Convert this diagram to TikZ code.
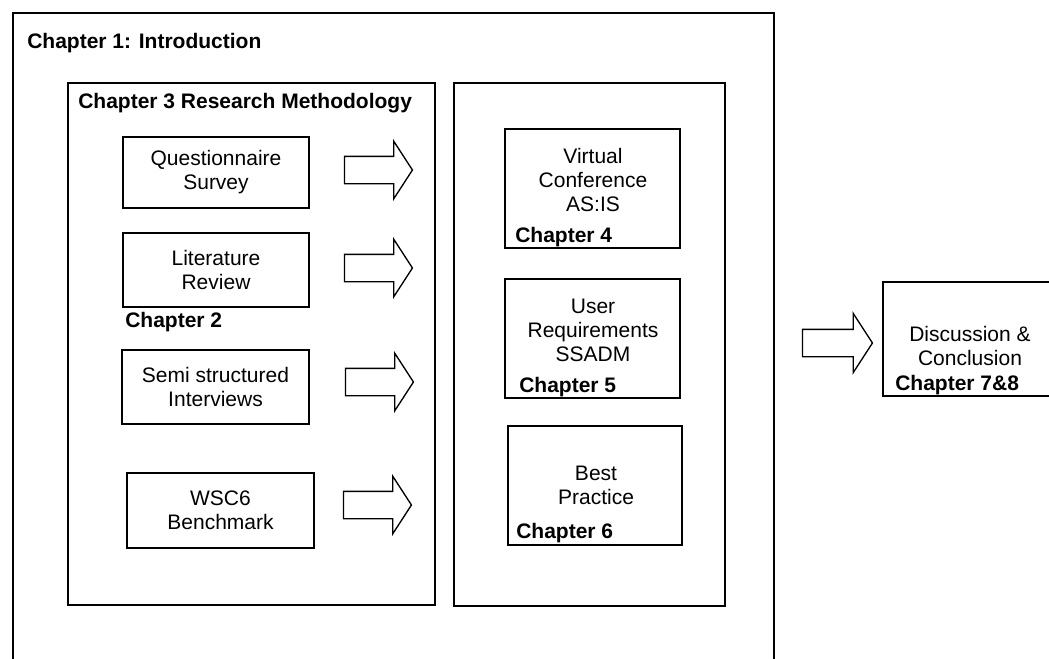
\documentclass[tikz,border=0pt]{standalone}
\usepackage{fontspec}
\setmainfont{Liberation Sans}
\usepackage{tikz}
\usetikzlibrary{positioning,shapes.arrows,fit}
\newcommand{\bodyfont}{\fontsize{15.75}{18}\selectfont}

\begin{document}
\begin{tikzpicture}[x=0.75pt, y=-0.75pt,
  frame/.style={draw, line width=1pt, inner sep=0pt},
  txt/.style={align=center, font=\bodyfont, inner sep=0pt},
  chap/.style={anchor=west, font=\bodyfont\bfseries, inner sep=0pt},
  barrow/.style={single arrow, draw, line width=1pt, inner xsep=0pt,
                 inner ysep=9.75pt, minimum height=51pt,
                 single arrow head extend=11.25pt, single arrow tip angle=114}
]
  \clip (0,0) rectangle (1049,658);

  % Outer chapter frame (open at the bottom)
  \draw[line width=1pt] (13,680) -- (13,13) -- (774,13) -- (774,680);
  \node[chap] (ch1) at (27,43) {Chapter 1: Introduction};

  % Methodology column
  \node[frame, fit={(68,83) (435,605)}] (method) {};
  \node[chap] (ch3) at (78,103) {Chapter 3 Research Methodology};

  \node[frame, fit={(123,137) (309,208)}] (quest) {};
  \node[txt] at (quest.center) {Questionnaire\\Survey};
  \node[frame, fit={(123,233) (309,307)}] (lit) {};
  \node[txt] at (lit.center) {Literature\\Review};
  \node[chap] (ch2) at (125,322) {Chapter 2};
  \node[frame, fit={(122,350) (309,424)}] (semi) {};
  \node[txt] at (semi.center) {Semi structured\\Interviews};
  \node[frame, fit={(127,473) (314,548)}] (wsc) {};
  \node[txt] at (wsc.center) {WSC6\\Benchmark};

  % Block arrows
  \node[barrow] (arrquest) at (374,170) {};
  \node[barrow] (arrlit) at (374,268) {};
  \node[barrow] (arrsemi) at (375,382) {};
  \node[barrow] (arrwsc) at (373,505) {};

  % Results column
  \node[frame, fit={(454,83) (725,606)}] (results) {};

  \node[frame, fit={(505,129) (680,248)}] (virt) {};
  \node[txt] at (593,180) {Virtual\\Conference\\AS:IS};
  \node[chap] (ch4) at (515,237) {Chapter 4};
  \node[frame, fit={(505,279) (680,398)}] (user) {};
  \node[txt] at (593,330) {User\\Requirements\\SSADM};
  \node[chap] (ch5) at (519,387) {Chapter 5};
  \node[frame, fit={(508,426) (682,545)}] (best) {};
  \node[txt] at (596,485) {Best\\Practice};
  \node[chap] (ch6) at (516,533) {Chapter 6};

  % Conclusion
  \node[barrow, minimum height=52.5pt, single arrow head extend=12pt] (arrdisc) at (833,343) {};
  \node[frame, fit={(883,282) (1070,396)}] (disc) {};
  \node[txt] at (970,346) {Discussion \&\\Conclusion};
  \node[chap] (ch78) at (895,385) {Chapter 7\&8};
\end{tikzpicture}
\end{document}
